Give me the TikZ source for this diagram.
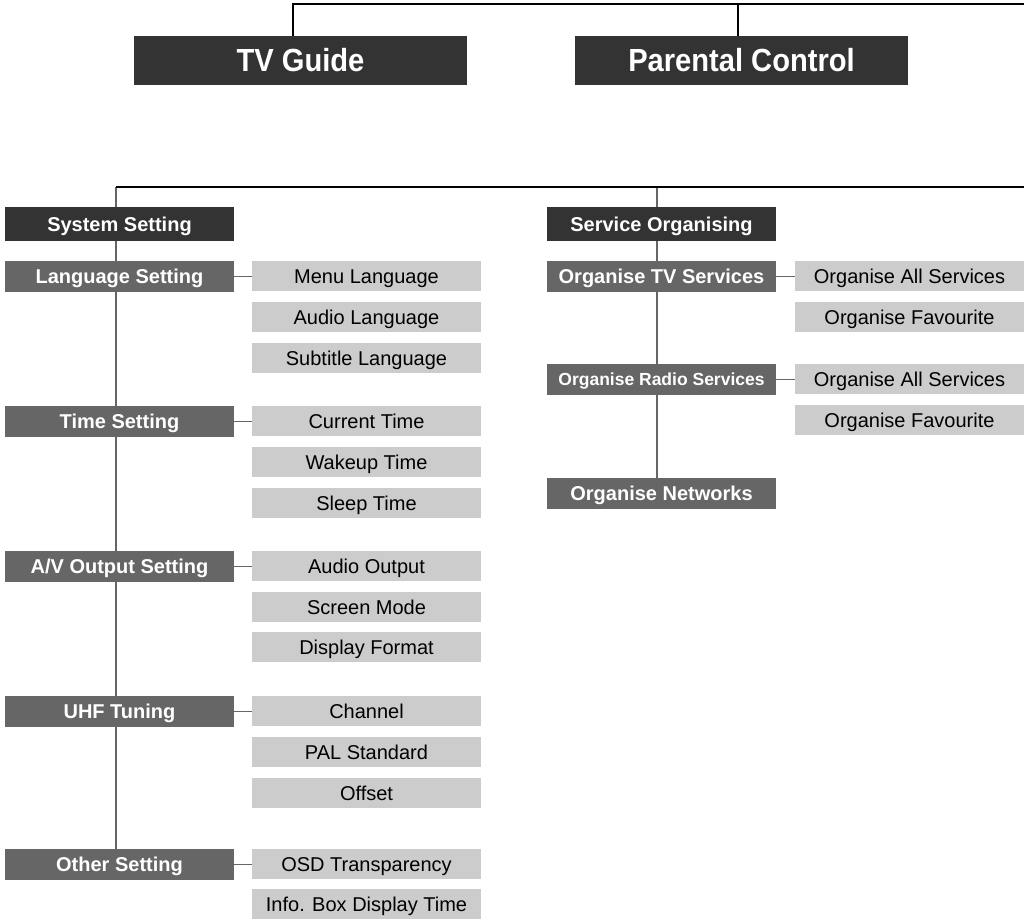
\documentclass[tikz,border=0pt]{standalone}
\usepackage{fontspec}
\setmainfont{Liberation Sans}
\newfontfamily\topfont{Liberation Sans Bold}[FakeStretch=0.91]
\usetikzlibrary{backgrounds}
\definecolor{cdark}{HTML}{333333}
\definecolor{cmid}{HTML}{666666}
\definecolor{clight}{HTML}{CCCCCC}
\tikzset{
  every node/.style={inner sep=0pt, outer sep=0pt, anchor=north west, text depth=0pt, align=center},
  topbox/.style={fill=cdark, text=white, font=\topfont\fontsize{32}{36}\selectfont, text height=22.9pt, minimum width=333pt, minimum height=49pt},
  headbox/.style={fill=cdark, text=white, font=\bfseries\fontsize{20}{24}\selectfont, text height=14.3pt, minimum width=229pt, minimum height=34pt},
  midbox/.style={fill=cmid, text=white, font=\bfseries\fontsize{20}{24}\selectfont, text height=14.3pt, minimum width=229pt, minimum height=31pt},
  smallmid/.style={midbox, font=\bfseries\fontsize{17.5}{21}\selectfont, text height=12.5pt},
  leafbox/.style={fill=clight, text=black, font=\fontsize{20}{24}\selectfont, text height=14.3pt, minimum width=229pt, minimum height=30pt},
  blackline/.style={draw=black, line width=1.3pt},
  grayline/.style={draw=cmid, line width=1.3pt},
}
\begin{document}
\begin{tikzpicture}[x=1pt, y=-1pt]
\useasboundingbox (0,0) rectangle (1024,918);
% top row
\node[topbox] (tv) at (134,36) {TV Guide};
\node[topbox] (pc) at (575,36) {Parental Control};
\coordinate (topL) at (293,4);
\coordinate (topM) at (738,4);
\coordinate (topR) at (1024,4);
% left column
\node[headbox] (sys) at (5,207) {System Setting};
\node[midbox] (lang) at (5,261) {Language Setting};
\node[midbox] (time) at (5,406) {Time Setting};
\node[midbox] (av) at (5,551) {A/V Output Setting};
\node[midbox] (uhf) at (5,696) {UHF Tuning};
\node[midbox] (other) at (5,849) {Other Setting};
\node[leafbox] (menul) at (252,261) {Menu Language};
\node[leafbox] (audiol) at (252,302) {Audio Language};
\node[leafbox] (subl) at (252,343) {Subtitle Language};
\node[leafbox] (curt) at (252,406) {Current Time};
\node[leafbox] (wake) at (252,447) {Wakeup Time};
\node[leafbox] (sleep) at (252,488) {Sleep Time};
\node[leafbox] (aout) at (252,551) {Audio Output};
\node[leafbox] (smode) at (252,592) {Screen Mode};
\node[leafbox] (dfmt) at (252,632) {Display Format};
\node[leafbox] (chan) at (252,696) {Channel};
\node[leafbox] (pal) at (252,737) {PAL Standard};
\node[leafbox] (offs) at (252,778) {Offset};
\node[leafbox] (osd) at (252,849) {OSD Transparency};
\node[leafbox] (info) at (252,889) {Info. Box Display Time};
% right column
\node[headbox] (serv) at (547,207) {Service Organising};
\node[midbox] (orgtv) at (547,261) {Organise TV Services};
\node[smallmid] (orgradio) at (547,364) {Organise Radio Services};
\node[midbox] (orgnet) at (547,478) {Organise Networks};
\node[leafbox] (tvall) at (795,261) {Organise All Services};
\node[leafbox] (tvfav) at (795,302) {Organise Favourite};
\node[leafbox] (radall) at (795,364) {Organise All Services};
\node[leafbox] (radfav) at (795,405) {Organise Favourite};
\coordinate (midL) at (116,187);
\coordinate (midM) at (657,187);
\coordinate (midR) at (1024,187);
\begin{scope}[on background layer]
\draw[blackline] (topL |- tv.north) -- (topL) -- (topR);
\draw[blackline] (topM) -- (topM |- pc.north);
\draw[grayline] (midL) -- (midL |- other.north);
\draw[grayline] (midM) -- (midM |- orgnet.north);
\draw[blackline] (midL) -- (midR);
\draw[grayline] (lang.east) -- (lang.east -| menul.west);
\draw[grayline] (time.east) -- (time.east -| curt.west);
\draw[grayline] (av.east) -- (av.east -| aout.west);
\draw[grayline] (uhf.east) -- (uhf.east -| chan.west);
\draw[grayline] (other.east) -- (other.east -| osd.west);
\draw[grayline] (orgtv.east) -- (orgtv.east -| tvall.west);
\draw[grayline] (orgradio.east) -- (orgradio.east -| radall.west);
\end{scope}
\end{tikzpicture}
\end{document}
